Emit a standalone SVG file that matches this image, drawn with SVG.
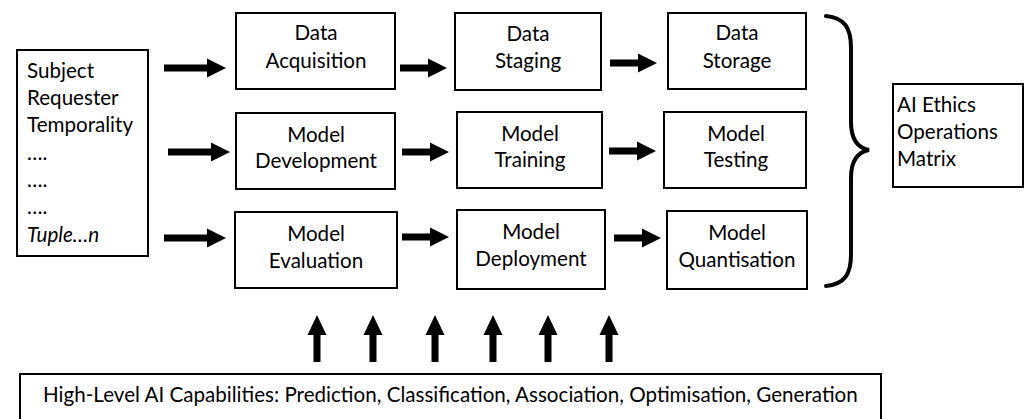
<svg xmlns="http://www.w3.org/2000/svg" width="1029" height="419" viewBox="0 0 1029 419">
<defs>
<style>
.box{fill:#fff;stroke:#000;stroke-width:2}
.t{font-family:Lato,"Liberation Sans",sans-serif;font-size:20.6px;fill:#000}
.c{text-anchor:middle}
.arr{fill:#000}
.brace{fill:none;stroke:#000;stroke-width:4;stroke-linecap:round}
</style>
<path id="ah" d="M0,-3.5 L43,-3.5 L43,-9.5 L62,0 L43,9.5 L43,3.5 L0,3.5 Z"/>
<path id="ahs" d="M0,-3.5 L28,-3.5 L28,-9.5 L47,0 L28,9.5 L28,3.5 L0,3.5 Z"/>
<path id="au" d="M-3.5,47 L-3.5,20 L-9.5,20 L0,0 L9.5,20 L3.5,20 L3.5,47 Z"/>
</defs>
<rect width="1029" height="419" fill="#fff"/>
<g id="inputs">
<rect class="box" x="17" y="50" width="131" height="206"/>
<text class="t" x="27" y="78">Subject</text>
<text class="t" x="27" y="105">Requester</text>
<text class="t" x="27" y="132">Temporality</text>
<text class="t" x="27" y="160">….</text>
<text class="t" x="27" y="187">….</text>
<text class="t" x="27" y="214">….</text>
<text class="t" x="27" y="242" font-style="italic">Tuple…n</text>
</g>
<g id="data-acquisition"><rect class="box" x="236" y="13" width="159" height="76"/><text class="t c" x="316" y="40">Data</text><text class="t c" x="316" y="68">Acquisition</text></g>
<g id="data-staging"><rect class="box" x="455" y="13" width="146" height="77"/><text class="t c" x="528" y="41">Data</text><text class="t c" x="528" y="68">Staging</text></g>
<g id="data-storage"><rect class="box" x="668" y="13" width="138" height="76"/><text class="t c" x="737" y="40">Data</text><text class="t c" x="737" y="68">Storage</text></g>
<g id="model-development"><rect class="box" x="236" y="113" width="159" height="76"/><text class="t c" x="316" y="142">Model</text><text class="t c" x="316" y="168">Development</text></g>
<g id="model-training"><rect class="box" x="457" y="112" width="145" height="76"/><text class="t c" x="530" y="141">Model</text><text class="t c" x="530" y="167">Training</text></g>
<g id="model-testing"><rect class="box" x="664" y="112" width="142" height="76"/><text class="t c" x="736" y="141">Model</text><text class="t c" x="736" y="167">Testing</text></g>
<g id="model-evaluation"><rect class="box" x="235" y="212" width="162" height="76"/><text class="t c" x="316" y="241">Model</text><text class="t c" x="316" y="268">Evaluation</text></g>
<g id="model-deployment"><rect class="box" x="457" y="210" width="148" height="79"/><text class="t c" x="531" y="239">Model</text><text class="t c" x="531" y="266">Deployment</text></g>
<g id="model-quantisation"><rect class="box" x="667" y="211" width="140" height="78"/><text class="t c" x="737" y="240">Model</text><text class="t c" x="737" y="267">Quantisation</text></g>
<g id="ethics-matrix"><rect class="box" x="893" y="84" width="130" height="103"/><text class="t" x="897" y="112">AI Ethics</text><text class="t" x="897" y="139">Operations</text><text class="t" x="897" y="166">Matrix</text></g>
<g id="capabilities"><rect class="box" x="20" y="374" width="861" height="60"/><text class="t" x="43" y="402">High-Level AI Capabilities: Prediction, Classification, Association, Optimisation, Generation</text></g>
<g id="connectors">
<use href="#ah" class="arr" x="164" y="68"/>
<use href="#ah" class="arr" x="168" y="152"/>
<use href="#ah" class="arr" x="164" y="238"/>
<use href="#ahs" class="arr" x="400" y="68"/>
<use href="#ahs" class="arr" x="402" y="152"/>
<use href="#ahs" class="arr" x="402" y="237"/>
<use href="#ahs" class="arr" x="610" y="63"/>
<use href="#ahs" class="arr" x="609" y="151"/>
<use href="#ahs" class="arr" x="614" y="238"/>
<use href="#au" class="arr" x="317" y="315"/>
<use href="#au" class="arr" x="373" y="315"/>
<use href="#au" class="arr" x="435" y="315"/>
<use href="#au" class="arr" x="493" y="315"/>
<use href="#au" class="arr" x="548" y="315"/>
<use href="#au" class="arr" x="609" y="315"/>
<path class="brace" d="M826,16 C845,18 851,28 851,48 L851,122 C851,140 858,148 869,150 C858,152 851,160 851,178 L851,254 C851,274 845,284 826,286"/>
</g>
</svg>
